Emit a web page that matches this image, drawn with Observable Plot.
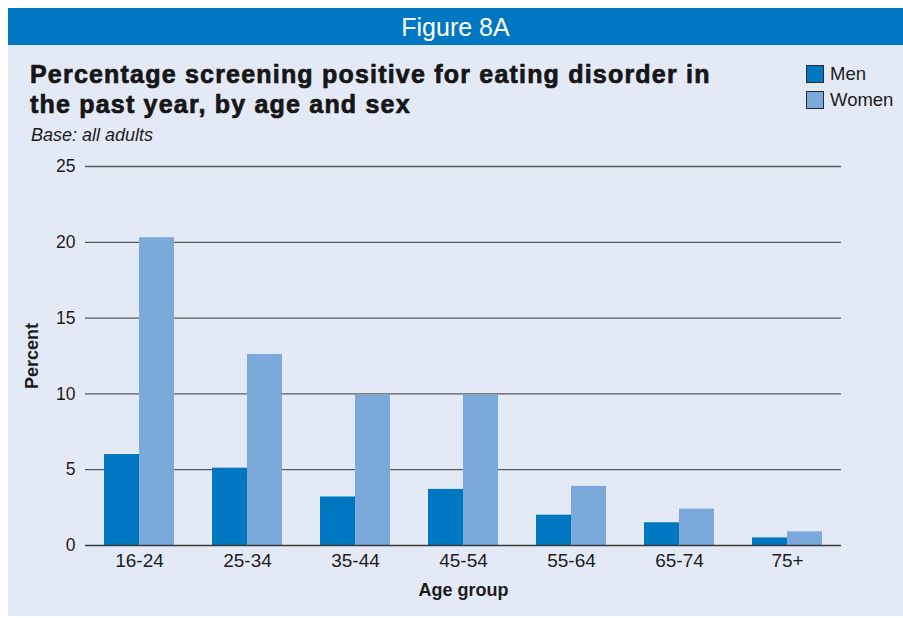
<!DOCTYPE html>
<html>
<head>
<meta charset="utf-8">
<script src="https://cdn.jsdelivr.net/npm/d3@7"></script>
<script src="https://cdn.jsdelivr.net/npm/@observablehq/plot@0.6"></script>
<style>
  html, body { margin: 0; padding: 0; background: #ffffff; }
  body { width: 903px; height: 618px; position: relative; overflow: hidden; font-family: "Liberation Sans", Arial, sans-serif; color: #1c1c1c; }
  #header { position: absolute; left: 8px; top: 8px; width: 895px; height: 37px; background: #0077c1; color: #fff; font-size: 25px; line-height: 38px; text-align: center; }
  #panel { position: absolute; left: 8px; top: 45px; width: 895px; height: 571px; background: #e3eaf6; }
  #title { position: absolute; left: 30px; top: 59px; font-size: 25px; font-weight: 900; line-height: 30px; color: #161616; -webkit-text-stroke: 0.7px #161616; letter-spacing: 1.2px; }
  #subtitle { position: absolute; left: 31px; top: 125px; font-size: 18px; font-style: italic; color: #1c1c1c; }
  #legend { position: absolute; left: 806px; top: 61px; font-size: 18.5px; color: #1c1c1c; }
  .sw { display: flex; align-items: center; height: 26px; }
  .sw span.box { width: 18px; height: 18px; box-sizing: border-box; border: 1px solid #2a2a2a; margin-right: 6px; display: inline-block; }
  #chart { position: absolute; left: 0; top: 150px; }
  #chart svg { background: transparent; }
  g[aria-label="y-axis label"] text, g[aria-label="fx-axis label"] text { font-weight: bold; font-size: 18px; }
  g[aria-label="fx-axis tick label"] text { font-size: 19px; }
</style>
</head>
<body>
<div id="header">Figure 8A</div>
<div id="panel"></div>
<div id="title">Percentage screening positive for eating disorder in<br>the past year, by age and sex</div>
<div id="subtitle">Base: all adults</div>
<div id="legend"></div>
<div id="chart"></div>
<script>
const ages = ["16-24", "25-34", "35-44", "45-54", "55-64", "65-74", "75+"];
const sexes = ["Men", "Women"];
const colors = ["#0077c1", "#7baada"];
const men = [6.0, 5.1, 3.2, 3.7, 2.0, 1.5, 0.5];
const women = [20.3, 12.6, 9.9, 9.9, 3.9, 2.4, 0.9];
const yTicks = [0, 5, 10, 15, 20, 25];

const data = [];
ages.forEach((a, i) => {
  data.push({age: a, sex: "Men", value: men[i]});
  data.push({age: a, sex: "Women", value: women[i]});
});

const legend = document.getElementById("legend");
sexes.forEach((s, i) => {
  const row = document.createElement("div");
  row.className = "sw";
  const box = document.createElement("span");
  box.className = "box";
  box.style.background = colors[i];
  row.appendChild(box);
  row.appendChild(document.createTextNode(s));
  legend.appendChild(row);
});

const chart = Plot.plot({
  width: 903,
  height: 465,
  marginLeft: 85,
  marginRight: 62,
  marginTop: 16,
  marginBottom: 70,
  style: { fontFamily: "Liberation Sans, Arial, sans-serif", fontSize: "17.5px", color: "#1c1c1c", background: "transparent", overflow: "visible" },
  fx: { domain: ages, padding: 0, label: "Age group", labelAnchor: "center", labelArrow: "none", tickSize: 0, tickPadding: 8, labelOffset: 50 },
  x: { domain: sexes, axis: null, paddingInner: 0, paddingOuter: 0.52 },
  y: { domain: [0, 25], ticks: yTicks, tickSize: 0, tickPadding: 10, label: "Percent", labelAnchor: "center", labelArrow: "none", labelOffset: 60 },
  color: { domain: sexes, range: colors },
  marks: [
    Plot.ruleY(yTicks.filter(d => d > 0), { stroke: "#5a5a5a", strokeWidth: 1.3 }),
    Plot.barY(data, { fx: "age", x: "sex", y: "value", fill: "sex" }),
    Plot.ruleY([0], { stroke: "#3a3a3a", strokeWidth: 1.6 })
  ]
});
document.getElementById("chart").appendChild(chart);
</script>
</body>
</html>
